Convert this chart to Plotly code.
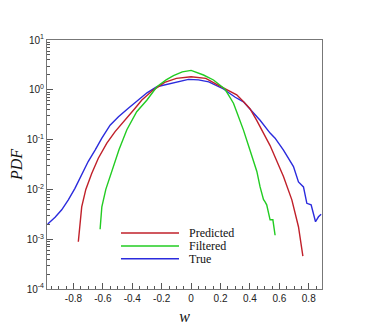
import plotly.graph_objects as go

# ---- data ----
true_w = [-0.975, -0.925, -0.88, -0.835, -0.79, -0.744, -0.70, -0.653, -0.607, -0.551,
          -0.494, -0.427, -0.359, -0.30, -0.233, -0.15, -0.08, -0.018, 0.05, 0.12,
          0.22, 0.30, 0.356, 0.41, 0.469, 0.537, 0.571, 0.628, 0.696, 0.73,
          0.764, 0.787, 0.816, 0.846, 0.866, 0.884]
true_pdf = [0.00202, 0.00275, 0.00389, 0.00617, 0.0105, 0.0195, 0.0363, 0.0617, 0.107, 0.195,
            0.288, 0.427, 0.624, 0.871, 1.153, 1.318, 1.514, 1.622, 1.585, 1.445,
            1.038, 0.708, 0.575, 0.380, 0.245, 0.135, 0.107, 0.0617, 0.0288, 0.0141,
            0.0112, 0.00525, 0.0049, 0.00224, 0.00282, 0.00316]

pred_w = [-0.767, -0.744, -0.716, -0.676, -0.631, -0.573, -0.517, -0.449, -0.381, -0.335,
          -0.26, -0.18, -0.10, 0.0, 0.10, 0.18, 0.26, 0.31, 0.36, 0.40,
          0.447, 0.519, 0.537, 0.628, 0.685, 0.73, 0.76]
pred_pdf = [0.00089, 0.00447, 0.0100, 0.0209, 0.0422, 0.0851, 0.145, 0.245, 0.427, 0.624,
            0.977, 1.413, 1.70, 1.83, 1.70, 1.26, 0.955, 0.794, 0.562, 0.417,
            0.240, 0.100, 0.0759, 0.0182, 0.00617, 0.00178, 0.000457]

filt_w = [-0.619, -0.607, -0.58, -0.529, -0.49, -0.437, -0.37, -0.30, -0.233, -0.17,
          -0.12, -0.06, 0.0, 0.084, 0.152, 0.231, 0.288, 0.311, 0.356, 0.401,
          0.447, 0.469, 0.492, 0.503, 0.514, 0.537, 0.556, 0.571]
filt_pdf = [0.00158, 0.00447, 0.0100, 0.0282, 0.0631, 0.158, 0.363, 0.624, 1.153, 1.585,
            1.919, 2.29, 2.455, 1.982, 1.574, 1.023, 0.537, 0.355, 0.155, 0.0603,
            0.0229, 0.0112, 0.00631, 0.00562, 0.0049, 0.00245, 0.00245, 0.0012]

series_names = ["Predicted", "Filtered", "True"]
x_tick_vals = [-0.8, -0.6, -0.4, -0.2, 0, 0.2, 0.4, 0.6, 0.8]
x_tick_text = ["-0.8", "-0.6", "-0.4", "-0.2", "0", "0.2", "0.4", "0.6", "0.8"]
y_exponents = [-4, -3, -2, -1, 0, 1]

colors = {"Predicted": "#c0202a", "Filtered": "#22cc22", "True": "#2b2bdd"}

fig = go.Figure()
for name, xs, ys in [("True", true_w, true_pdf), ("Predicted", pred_w, pred_pdf),
                     ("Filtered", filt_w, filt_pdf)]:
    fig.add_trace(go.Scatter(x=xs, y=ys, mode="lines", name=name,
                             line=dict(color=colors[name], width=1.4),
                             showlegend=False))

# manual legend (long line samples like the reference)
legend_y = [0.225, 0.173, 0.121]
for name, yy in zip(series_names, legend_y):
    fig.add_shape(type="line", xref="paper", yref="paper", x0=0.269, x1=0.48,
                  y0=yy, y1=yy, line=dict(color=colors[name], width=1.5))
    fig.add_annotation(xref="paper", yref="paper", x=0.51, y=yy, text=name,
                       showarrow=False, xanchor="left", yanchor="middle",
                       font=dict(family="Liberation Serif", size=12, color="#111"))

minor_y = [m * 10.0 ** e for e in range(-4, 1) for m in range(2, 10)]

fig.update_xaxes(range=[-0.98, 0.89], tickvals=x_tick_vals, ticktext=x_tick_text,
                 ticks="inside", ticklen=6, tickcolor="#555", tickwidth=1,
                 minor=dict(ticks="inside", ticklen=3, dtick=0.05, tick0=0,
                            tickcolor="#555", showgrid=False),
                 showline=True, linecolor="#777", linewidth=1, mirror=True,
                 showgrid=False, zeroline=False, automargin=False,
                 tickfont=dict(family="Liberation Sans", size=10, color="#222"),
                 title=dict(text="<i>w</i>", standoff=8,
                            font=dict(family="Liberation Serif", size=16, color="#111")))
fig.update_yaxes(type="log", range=[-4, 1],
                 tickvals=[10.0 ** e for e in y_exponents],
                 ticktext=[f"10<sup>{e}</sup>" for e in y_exponents],
                 ticks="inside", ticklen=6, tickcolor="#555", tickwidth=1,
                 minor=dict(ticks="inside", ticklen=3, tickvals=minor_y,
                            tickcolor="#555", showgrid=False),
                 showline=True, linecolor="#777", linewidth=1, mirror=True,
                 showgrid=False, zeroline=False, automargin=False,
                 tickfont=dict(family="Liberation Sans", size=10, color="#222"),
                 title=dict(text="<i>PDF</i>", standoff=0,
                            font=dict(family="Liberation Serif", size=16, color="#111")))

# the page adds an 8 px body margin, so the figure is sized to fit inside the window
fig.update_layout(width=358, height=317, margin=dict(l=39, r=44, t=32, b=36),
                  plot_bgcolor="white", paper_bgcolor="white", showlegend=False)

fig.write_html("out.html")
